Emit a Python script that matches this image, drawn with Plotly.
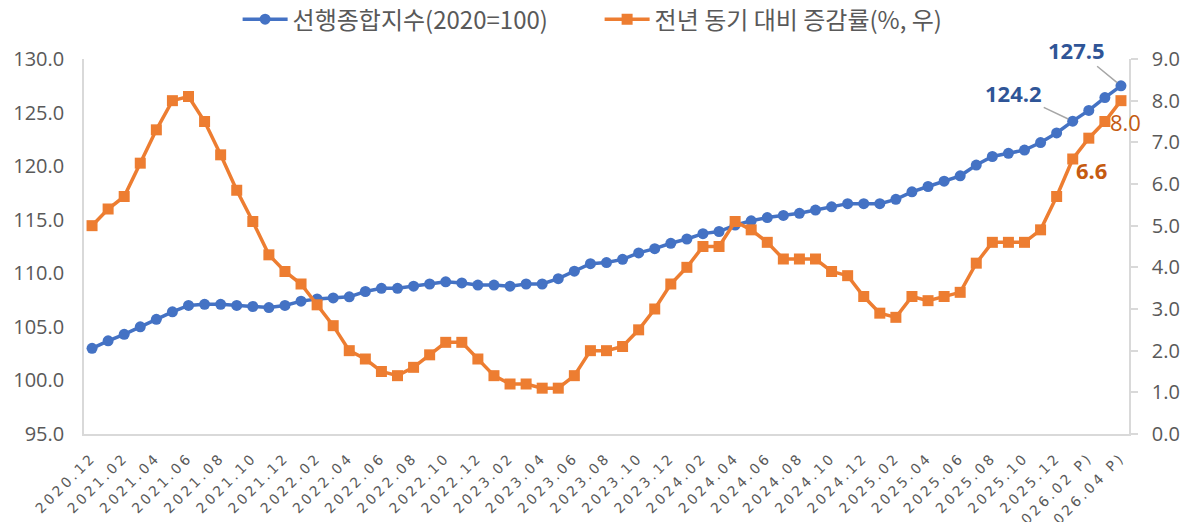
import plotly.graph_objects as go

months = [
    "2020.12",
    "2021.01", "2021.02", "2021.03", "2021.04", "2021.05", "2021.06",
    "2021.07", "2021.08", "2021.09", "2021.10", "2021.11", "2021.12",
    "2022.01", "2022.02", "2022.03", "2022.04", "2022.05", "2022.06",
    "2022.07", "2022.08", "2022.09", "2022.10", "2022.11", "2022.12",
    "2023.01", "2023.02", "2023.03", "2023.04", "2023.05", "2023.06",
    "2023.07", "2023.08", "2023.09", "2023.10", "2023.11", "2023.12",
    "2024.01", "2024.02", "2024.03", "2024.04", "2024.05", "2024.06",
    "2024.07", "2024.08", "2024.09", "2024.10", "2024.11", "2024.12",
    "2025.01", "2025.02", "2025.03", "2025.04", "2025.05", "2025.06",
    "2025.07", "2025.08", "2025.09", "2025.10", "2025.11", "2025.12",
    "2026.01 P)", "2026.02 P)", "2026.03 P)", "2026.04 P)",
]

leading_index = [
    103.0, 103.7, 104.3, 105.0, 105.7, 106.4, 107.0, 107.1, 107.1, 107.0,
    106.9, 106.8, 107.0, 107.4, 107.6, 107.7, 107.8, 108.3, 108.6, 108.6,
    108.8, 109.0, 109.2, 109.1, 108.9, 108.9, 108.8, 109.0, 109.0, 109.5,
    110.2, 110.9, 111.0, 111.3, 111.9, 112.3, 112.8, 113.2, 113.7, 113.9,
    114.5, 114.9, 115.2, 115.4, 115.6, 115.9, 116.2, 116.5, 116.5, 116.5,
    116.9, 117.6, 118.1, 118.6, 119.1, 120.1, 120.9, 121.2, 121.5, 122.2,
    123.1, 124.2, 125.2, 126.4, 127.5,
]

yoy_change = [
    5.0, 5.4, 5.7, 6.5, 7.3, 8.0, 8.1, 7.5, 6.7, 5.85,
    5.1, 4.3, 3.9, 3.6, 3.1, 2.6, 2.0, 1.8, 1.5, 1.4,
    1.6, 1.9, 2.2, 2.2, 1.8, 1.4, 1.2, 1.2, 1.1, 1.1,
    1.4, 2.0, 2.0, 2.1, 2.5, 3.0, 3.6, 4.0, 4.5, 4.5,
    5.1, 4.9, 4.6, 4.2, 4.2, 4.2, 3.9, 3.8, 3.3, 2.9,
    2.8, 3.3, 3.2, 3.3, 3.4, 4.1, 4.6, 4.6, 4.6, 4.9,
    5.7, 6.6, 7.1, 7.5, 8.0,
]

tick_months = months[::2]
left_ticks = [95, 100, 105, 110, 115, 120, 125, 130]
right_ticks = [0, 1, 2, 3, 4, 5, 6, 7, 8, 9]

series_names = ["선행종합지수(2020=100)", "전년 동기 대비 증감률(%, 우)"]

BLUE = "#4472C4"
ORANGE = "#ED7D31"
DARK_BLUE = "#2F5597"
DARK_ORANGE = "#C55A11"
GRAY_TXT = "#595959"
AXIS_GRAY = "#D9D9D9"
NUM_FONT = "Open Sans"
KR_FONT = "Noto Sans CJK KR"

fig = go.Figure()
fig.add_trace(go.Scatter(
    x=months, y=leading_index, name=series_names[0],
    mode="lines+markers",
    line=dict(color=BLUE, width=3.5),
    marker=dict(symbol="circle", size=11, color=BLUE),
    yaxis="y",
))
fig.add_trace(go.Scatter(
    x=months, y=yoy_change, name=series_names[1],
    mode="lines+markers",
    line=dict(color=ORANGE, width=3.5),
    marker=dict(symbol="square", size=11, color=ORANGE),
    yaxis="y2",
))

# data labels
ann = []
ann.append(dict(x=months[61], y=leading_index[61], xref="x", yref="y",
                text=f"<b>{leading_index[61]:.1f}</b>", showarrow=True,
                ax=-59, ay=-28, arrowhead=0, arrowwidth=1.5, arrowcolor="#A6A6A6",
                standoff=5, font=dict(family=NUM_FONT, size=22, color=DARK_BLUE)))
ann.append(dict(x=months[64], y=leading_index[64], xref="x", yref="y",
                text=f"<b>{leading_index[64]:.1f}</b>", showarrow=True,
                ax=-44, ay=-36, arrowhead=0, arrowwidth=1.5, arrowcolor="#A6A6A6",
                standoff=5, font=dict(family=NUM_FONT, size=22, color=DARK_BLUE)))
ann.append(dict(x=months[61], y=yoy_change[61], xref="x", yref="y2",
                text=f"<b>{yoy_change[61]:.1f}</b>", showarrow=False,
                xshift=19, yshift=-11,
                font=dict(family=NUM_FONT, size=22, color=DARK_ORANGE)))
ann.append(dict(x=months[64], y=yoy_change[64], xref="x", yref="y2",
                text=f"{yoy_change[64]:.1f}", showarrow=False,
                xshift=5, yshift=-21,
                font=dict(family=NUM_FONT, size=22, color=DARK_ORANGE)))

fig.update_layout(
    width=1190, height=522,
    margin=dict(l=84, r=61, t=59, b=88, autoexpand=False),
    paper_bgcolor="white", plot_bgcolor="white",
    showlegend=True,
    legend=dict(orientation="h", x=0.147, xanchor="left", y=1.105, yanchor="middle",
                font=dict(family=KR_FONT, size=24, color=GRAY_TXT),
                itemwidth=45, entrywidth=302, bgcolor="rgba(0,0,0,0)"),
    xaxis=dict(
        type="category", range=[-0.5, 64.5], automargin=False,
        tickmode="array", tickvals=tick_months, ticktext=tick_months,
        tickangle=-45, tickfont=dict(family="DejaVu Sans", size=14, color=GRAY_TXT),
        showline=True, linecolor=AXIS_GRAY, linewidth=1.5,
        showgrid=False, ticks="", ticklabelstandoff=8,
    ),
    yaxis=dict(
        range=[95, 130], tickvals=left_ticks, tickformat=".1f", automargin=False,
        tickfont=dict(family=NUM_FONT, size=20, color=GRAY_TXT),
        showline=True, linecolor=AXIS_GRAY, linewidth=1.5,
        showgrid=False, zeroline=False, ticks="", ticklabelstandoff=14,
    ),
    yaxis2=dict(
        range=[0, 9], tickvals=right_ticks, tickformat=".1f", automargin=False,
        overlaying="y", side="right",
        tickfont=dict(family=NUM_FONT, size=20, color=GRAY_TXT),
        showline=True, linecolor=AXIS_GRAY, linewidth=1.5,
        showgrid=False, zeroline=False,
        ticks="outside", ticklen=7, tickcolor=AXIS_GRAY, tickwidth=1.5,
        ticklabelstandoff=10,
    ),
    annotations=ann,
)

post = """
document.body.style.margin = '0';
document.body.style.overflow = 'hidden';
document.querySelectorAll('.xtick text').forEach(function(t){
  t.style.letterSpacing = '3px';
});
"""

fig.write_html("out.html", post_script=post, config={"displayModeBar": False})
